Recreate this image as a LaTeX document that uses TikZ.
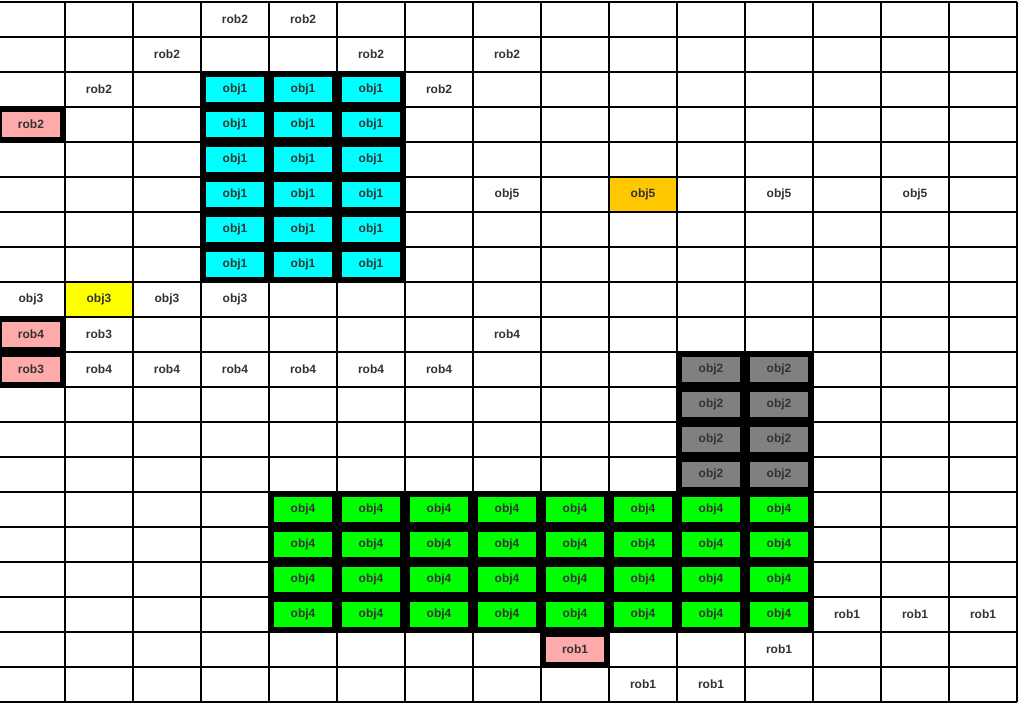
\documentclass[tikz,border=0pt]{standalone}
\usepackage{fontspec}
\setmainfont{Liberation Sans}
\usepackage{tikz}

\definecolor{txtgray}{HTML}{333333}
\definecolor{cyanobj}{HTML}{00FFFF}
\definecolor{greenobj}{HTML}{00FF00}
\definecolor{grayobj}{HTML}{808080}
\definecolor{pinkrob}{HTML}{FFAAAA}
\definecolor{yellowobj}{HTML}{FFFF00}
\definecolor{orangeobj}{HTML}{FFC800}

\tikzset{
    gridline/.style={line width=2.2pt, black},
    cell/.style={font=\fontsize{12}{14}\selectfont\bfseries, text=txtgray, inner sep=0pt},
    box/.style={cell, minimum width=58pt, minimum height=25pt},
    objone/.style={box, fill=cyanobj},
    objtwo/.style={box, fill=grayobj},
    objfour/.style={box, fill=greenobj},
    robbox/.style={box, fill=pinkrob}
}

\begin{document}
\begin{tikzpicture}[x=68pt, y=-35pt]
    \useasboundingbox (3pt,2pt) rectangle (1021pt,-702pt);
    \fill[white] (3pt,2pt) rectangle (1021pt,-702pt);

    % Plain coloured cells
    \fill[yellowobj] (1,8) rectangle (2,9);
    \fill[orangeobj] (9,5) rectangle (10,6);

    % The grid
    \foreach \c in {0,...,15}
        \draw[gridline] (\c,0) -- (\c,20);
    \foreach \r in {0,...,20}
        \draw[gridline] (0,\r) -- (15,\r);

    % Blocked regions
    \fill[black] (3,2) rectangle (6,8);
    \fill[black] (10,10) rectangle (12,14);
    \fill[black] (4,14) rectangle (12,18);
    \fill[black] (0,3) rectangle (1,4);
    \fill[black] (0,9) rectangle (1,11);
    \fill[black] (8,18) rectangle (9,19);

    % Objects
    \foreach \c in {3,4,5}
        \foreach \r in {2,...,7}
            \node[objone] (obj1-\c-\r) at (\c+0.5,\r+0.5) {obj1};
    \foreach \c in {10,11}
        \foreach \r in {10,...,13}
            \node[objtwo] (obj2-\c-\r) at (\c+0.5,\r+0.5) {obj2};
    \foreach \c in {4,...,11}
        \foreach \r in {14,...,17}
            \node[objfour] (obj4-\c-\r) at (\c+0.5,\r+0.5) {obj4};

    % Robots
    \node[robbox] (rob2) at (0.5,3.5) {rob2};
    \node[robbox] (rob4) at (0.5,9.5) {rob4};
    \node[robbox] (rob3) at (0.5,10.5) {rob3};
    \node[robbox] (rob1) at (8.5,18.5) {rob1};

    % Paths and goals
    \foreach \c/\r/\t in {3/0/rob2, 4/0/rob2, 2/1/rob2, 5/1/rob2, 7/1/rob2,
                          1/2/rob2, 6/2/rob2,
                          7/5/obj5, 9/5/obj5, 11/5/obj5, 13/5/obj5,
                          0/8/obj3, 1/8/obj3, 2/8/obj3, 3/8/obj3,
                          1/9/rob3, 7/9/rob4,
                          1/10/rob4, 2/10/rob4, 3/10/rob4, 4/10/rob4, 5/10/rob4, 6/10/rob4,
                          12/17/rob1, 13/17/rob1, 14/17/rob1,
                          11/18/rob1, 9/19/rob1, 10/19/rob1}
        \node[cell] (\t-\c-\r) at (\c+0.5,\r+0.5) {\t};
\end{tikzpicture}
\end{document}
